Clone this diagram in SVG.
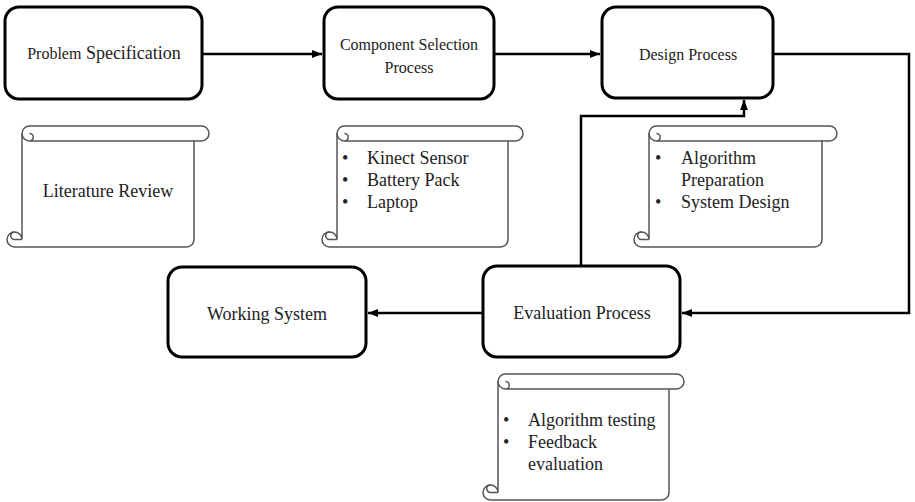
<svg xmlns="http://www.w3.org/2000/svg" width="915" height="502" viewBox="0 0 915 502">
<style>
.box{fill:#fff;stroke:#000;stroke-width:3}
.scroll{fill:#fff;stroke:#555;stroke-width:1.5}
.det{fill:none;stroke:#555;stroke-width:1.5}
.con{fill:none;stroke:#000;stroke-width:2.5}
text{font-family:"Liberation Serif","Times New Roman",serif;fill:#222}
.t16{font-size:16px}
.t18{font-size:18px}
.mid{text-anchor:middle}
</style>
<defs>
<marker id="arr" markerUnits="userSpaceOnUse" markerWidth="10" markerHeight="10" viewBox="0 0 10 10" refX="10" refY="5" orient="auto">
<path d="M0,1 L10,5 L0,9 Z" fill="#000"/>
</marker>
</defs>
<rect width="915" height="502" fill="#fff"/>
<g id="connectors">
<path class="con" d="M202,54 H322" marker-end="url(#arr)"/>
<path class="con" d="M494,54 H600" marker-end="url(#arr)"/>
<path class="con" d="M773,54 H909 V313 H682" marker-end="url(#arr)"/>
<path class="con" d="M581,266 V116 H744 V100" marker-end="url(#arr)"/>
<path class="con" d="M483,313 H368" marker-end="url(#arr)"/>
</g>
<g id="problem">
<rect class="box" x="5" y="7" width="197" height="92" rx="14"/>
<text class="mid" x="104" y="59"><tspan class="t16">Problem</tspan><tspan class="t18"> Specification</tspan></text>
</g>
<g id="component">
<rect class="box" x="324" y="7" width="170" height="92" rx="14"/>
<text class="t16 mid" x="409" y="50">Component Selection</text>
<text class="t16 mid" x="409" y="73">Process</text>
</g>
<g id="design">
<rect class="box" x="602" y="7" width="171" height="91" rx="14"/>
<text class="t16 mid" x="688" y="60">Design Process</text>
</g>
<g id="evaluation">
<rect class="box" x="483" y="266" width="197" height="91" rx="14"/>
<text class="t18 mid" x="582" y="319">Evaluation Process</text>
</g>
<g id="working">
<rect class="box" x="168" y="267" width="198" height="90" rx="14"/>
<text class="t18 mid" x="267" y="320">Working System</text>
</g>
<g id="scroll-literature">
<path class="scroll" d="M22,133.5 A7.5,7.5 0 0 1 29.5,126 L201.5,126 A7.5,7.5 0 0 1 201.5,141 L194,141 L194,239.5 A7.5,7.5 0 0 1 186.5,247 L14.5,247 A7.5,7.5 0 0 1 14.5,232 A7.5,7.5 0 0 1 22,239.5 Z"/>
<path class="det" d="M194,141 L29.5,141 A3.75,3.75 0 0 0 29.5,133.5 M22,133.5 A7.5,7.5 0 0 0 29.5,141 M22,239.5 L14.5,239.5 A3.75,3.75 0 0 1 14.5,232"/>
<text class="t18 mid" x="108" y="197">Literature Review</text>
</g>
<g id="scroll-components">
<path class="scroll" d="M337,133.5 A7.5,7.5 0 0 1 344.5,126 L515.5,126 A7.5,7.5 0 0 1 515.5,141 L508,141 L508,239.5 A7.5,7.5 0 0 1 500.5,247 L329.5,247 A7.5,7.5 0 0 1 329.5,232 A7.5,7.5 0 0 1 337,239.5 Z"/>
<path class="det" d="M508,141 L344.5,141 A3.75,3.75 0 0 0 344.5,133.5 M337,133.5 A7.5,7.5 0 0 0 344.5,141 M337,239.5 L329.5,239.5 A3.75,3.75 0 0 1 329.5,232"/>
<text class="t18" x="342" y="164">•</text>
<text class="t18" x="367" y="164">Kinect Sensor</text>
<text class="t18" x="342" y="186">•</text>
<text class="t18" x="367" y="186">Battery Pack</text>
<text class="t18" x="342" y="208">•</text>
<text class="t18" x="367" y="208">Laptop</text>
</g>
<g id="scroll-design">
<path class="scroll" d="M649,133.5 A7.5,7.5 0 0 1 656.5,126 L829.5,126 A7.5,7.5 0 0 1 829.5,141 L822,141 L822,239.5 A7.5,7.5 0 0 1 814.5,247 L641.5,247 A7.5,7.5 0 0 1 641.5,232 A7.5,7.5 0 0 1 649,239.5 Z"/>
<path class="det" d="M822,141 L656.5,141 A3.75,3.75 0 0 0 656.5,133.5 M649,133.5 A7.5,7.5 0 0 0 656.5,141 M649,239.5 L641.5,239.5 A3.75,3.75 0 0 1 641.5,232"/>
<text class="t18" x="655" y="164">•</text>
<text class="t18" x="681" y="164">Algorithm</text>
<text class="t18" x="681" y="186">Preparation</text>
<text class="t18" x="655" y="208">•</text>
<text class="t18" x="681" y="208">System Design</text>
</g>
<g id="scroll-evaluation">
<path class="scroll" d="M498,381.5 A7.5,7.5 0 0 1 505.5,374 L676.5,374 A7.5,7.5 0 0 1 676.5,389 L669,389 L669,492.5 A7.5,7.5 0 0 1 661.5,500 L490.5,500 A7.5,7.5 0 0 1 490.5,485 A7.5,7.5 0 0 1 498,492.5 Z"/>
<path class="det" d="M669,389 L505.5,389 A3.75,3.75 0 0 0 505.5,381.5 M498,381.5 A7.5,7.5 0 0 0 505.5,389 M498,492.5 L490.5,492.5 A3.75,3.75 0 0 1 490.5,485"/>
<text class="t18" x="503" y="426">•</text>
<text class="t18" x="528" y="426">Algorithm testing</text>
<text class="t18" x="503" y="448">•</text>
<text class="t18" x="528" y="448">Feedback</text>
<text class="t18" x="528" y="470">evaluation</text>
</g>
</svg>
